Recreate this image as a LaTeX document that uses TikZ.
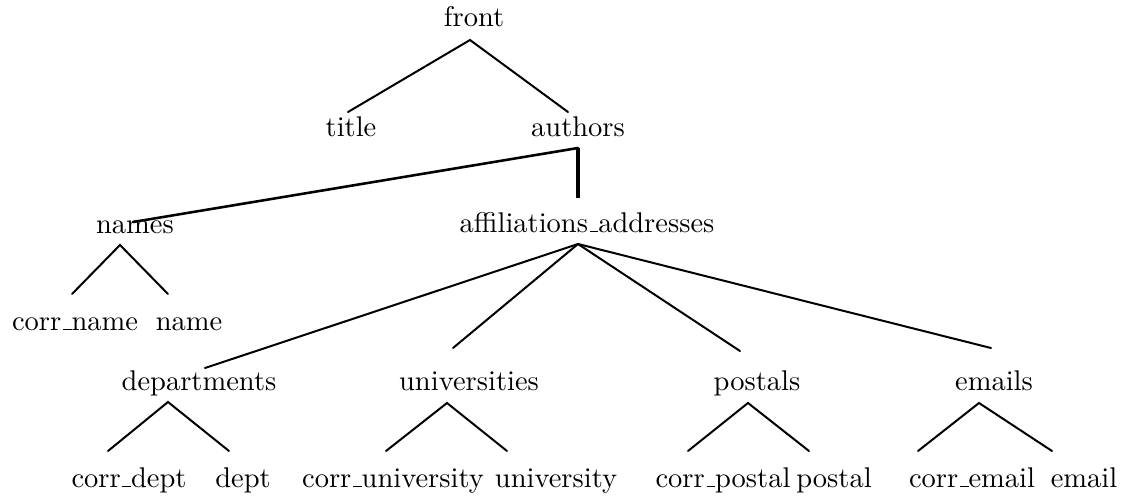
\documentclass[tikz,border=0pt]{standalone}
% low underscore rule sitting on the baseline
\newcommand{\usc}{\leavevmode\kern.06em\vbox{\hrule width .3em height .5pt}}
\begin{document}
\begin{tikzpicture}[x=0.3509pt,y=-0.3509pt,
  lbl/.style={inner sep=0pt, anchor=base},
  edge/.style={line width=0.7pt, line cap=round},
  heavy/.style={line width=1.3pt},
  medium/.style={line width=0.9pt, line cap=round}]
\useasboundingbox (0,0) rectangle (1131,495);

% labels
\node[lbl] (front) at (474,27) {front};
\node[lbl] (title) at (351,136) {title};
\node[lbl] (authors) at (578,136) {authors};
\node[lbl] (names) at (135,233) {names};
\node[lbl] (affil) at (587,232) {affiliations\usc addresses};
\node[lbl] (corrname) at (75,330) {corr\usc name};
\node[lbl] (name) at (189,330) {name};
\node[lbl] (depts) at (199,390) {departments};
\node[lbl] (univs) at (469,390) {universities};
\node[lbl] (postals) at (757,390) {postals};
\node[lbl] (emails) at (994,390) {emails};
\node[lbl] (corrdept) at (129,487) {corr\usc dept};
\node[lbl] (dept) at (243,487) {dept};
\node[lbl] (corruniv) at (393,487) {corr\usc university};
\node[lbl] (univ) at (556,487) {university};
\node[lbl] (corrpostal) at (723,487) {corr\usc postal};
\node[lbl] (postal) at (834,487) {postal};
\node[lbl] (corremail) at (972,487) {corr\usc email};
\node[lbl] (email) at (1084,487) {email};

% branch points and branch ends
\coordinate (front-f) at (470,40);
\coordinate (title-t) at (348,112);
\coordinate (authors-t) at (568,112);
\coordinate (authors-f) at (578,148);
\coordinate (affil-t) at (578,198);
\coordinate (names-t) at (133,222);
\coordinate (names-f) at (120,245);
\coordinate (corrname-t) at (72,294);
\coordinate (name-t) at (168,294);
\coordinate (affil-f) at (578,244);
\coordinate (depts-t) at (205,368);
\coordinate (univs-t) at (453,348);
\coordinate (postals-t) at (740,351);
\coordinate (emails-t) at (991,348);
\coordinate (depts-f) at (168,402);
\coordinate (corrdept-t) at (108,451);
\coordinate (dept-t) at (229,451);
\coordinate (univs-f) at (447,403);
\coordinate (corruniv-t) at (386,451);
\coordinate (univ-t) at (507,451);
\coordinate (postals-f) at (748,403);
\coordinate (corrpostal-t) at (688,451);
\coordinate (postal-t) at (809,451);
\coordinate (emails-f) at (979,403);
\coordinate (corremail-t) at (918,451);
\coordinate (email-t) at (1052,451);

% tree edges
\draw[edge] (title-t) -- (front-f) -- (authors-t);
\draw[heavy] (authors-f) -- (affil-t);
\draw[medium] (authors-f) -- (names-t);
\draw[edge] (corrname-t) -- (names-f) -- (name-t);
\draw[edge] (affil-f) -- (depts-t);
\draw[edge] (affil-f) -- (univs-t);
\draw[edge] (affil-f) -- (postals-t);
\draw[edge] (affil-f) -- (emails-t);
\draw[edge] (corrdept-t) -- (depts-f) -- (dept-t);
\draw[edge] (corruniv-t) -- (univs-f) -- (univ-t);
\draw[edge] (corrpostal-t) -- (postals-f) -- (postal-t);
\draw[edge] (corremail-t) -- (emails-f) -- (email-t);
\end{tikzpicture}
\end{document}
